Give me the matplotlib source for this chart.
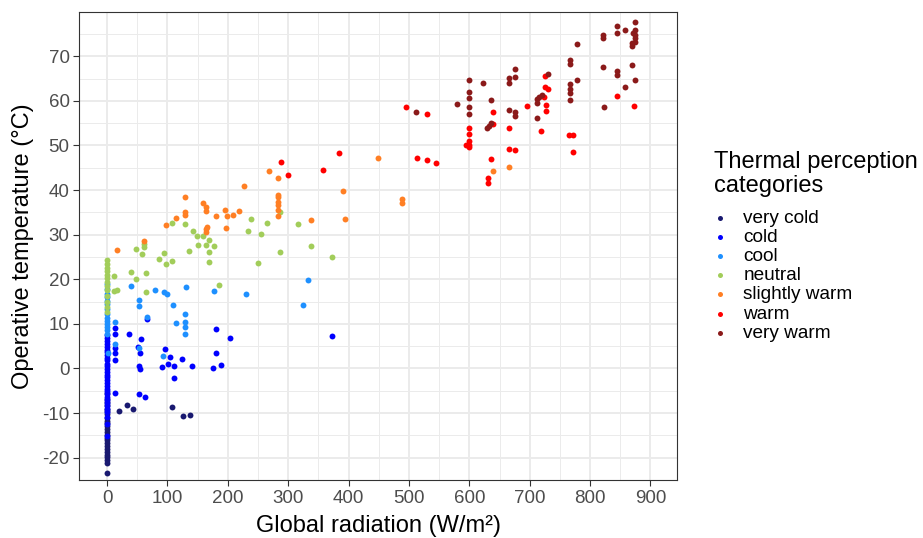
import numpy as np
import matplotlib
matplotlib.use("Agg")
from matplotlib import pyplot as plt

plt.rcParams["font.family"] = ["Liberation Sans", "DejaVu Sans"]
plt.rcParams["axes.unicode_minus"] = False

categories = ["very cold", "cold", "cool", "neutral", "slightly warm", "warm", "very warm"]
colors = ["#191970", "#0000FF", "#1E90FF", "#A2CD5A", "#FF7F24", "#FF0000", "#8B1A1A"]

x_ticks = [0, 100, 200, 300, 400, 500, 600, 700, 800, 900]
x_minor = [50, 150, 250, 350, 450, 550, 650, 750, 850]
y_ticks = [-20, -10, 0, 10, 20, 30, 40, 50, 60, 70]
y_minor = [-15, -5, 5, 15, 25, 35, 45, 55, 65, 75]

# points, one x list and one y list per category
very_cold_x = [0] * 25 + [19.4, 33.6, 43.6, 107.7, 125.4, 138.0]
very_cold_y = [-5.5, -6.8, -7.5, -8.2, -9.0, -9.6, -10.3, -11.0, -11.7, -12.3,
               -13.0, -13.6, -14.2, -14.9, -15.5, -16.1, -16.8, -17.4, -18.0,
               -18.7, -19.3, -19.9, -20.5, -21.1, -23.5,
               -9.6, -8.1, -9.0, -8.7, -10.6, -10.5]

cold_x = [0] * 31 + [13.3, 13.3, 13.3, 13.3, 13.3, 35.9, 56.8, 50.9, 54.2, 96.6,
                     104.9, 124.8, 53.5, 54.0, 90.6, 101.5, 110.5, 140.3, 110.5,
                     181.0, 203.7, 181.0, 175.0, 188.8, 12.8, 53.0, 63.4, 66.3, 372.4]
cold_y = [7.4, 6.8, 6.1, 5.5, 4.9, 4.2, 3.6, 3.0, 2.4, 1.8, 1.1, 0.5, -0.1, -0.7,
          -1.4, -2.0, -2.6, -3.2, -3.9, -4.5, -5.1, -5.8, -6.4, -7.1, -7.7, -8.3,
          -9.0, -9.8, -10.8, -12.4, -15.2,
          9.1, 7.7, 4.5, 3.4, 2.0, 7.7, 6.6, 4.9, 3.5, 4.4,
          2.6, 2.2, 0.6, -0.2, 0.4, 1.1, 0.6, 0.6, -2.1,
          8.9, 6.9, 3.5, 0.2, 0.8, -5.4, -5.7, -6.3, 11.2, 7.3]

cool_x = [0] * 14 + [2.2, 39.2, 79.5, 95.0, 100.0, 131.4, 176.7, 229.7, 53.5, 53.0,
                     109.3, 66.3, 129.2, 129.2, 129.2, 129.2, 113.8, 12.8, 13.3,
                     53.5, 93.3, 332.4, 324.6]
cool_y = [19.0, 17.9, 16.8, 16.0, 15.2, 14.4, 13.3, 12.2, 11.4, 10.7, 10.0, 9.3,
          8.6, 7.8,
          3.5, 18.5, 17.6, 17.1, 16.7, 18.3, 17.3, 16.6, 15.3, 13.9,
          14.3, 11.6, 12.2, 10.5, 9.2, 7.8, 10.2, 10.4, 5.5,
          4.6, 2.8, 19.8, 14.3]

neutral_x = [0] * 13 + [11.6, 11.1, 16.0, 39.2, 48.5, 65.1, 65.1, 48.5, 57.5, 60.8,
                        60.8, 95.0, 86.1, 97.2, 107.7, 107.7, 129.2, 135.8, 143.0,
                        149.6, 158.5, 150.7, 164.0, 177.2, 169.0, 169.0, 169.0,
                        185.5, 239.0, 264.5, 234.0, 255.0, 286.6, 286.6, 250.0,
                        317.0, 337.4, 373.2]
neutral_y = [24.4, 23.5, 22.6, 21.8, 21.0, 20.2, 19.4, 18.6, 17.7, 16.3, 15.0,
             13.8, 12.6,
             20.7, 17.4, 17.6, 21.7, 20.0, 21.5, 17.2, 26.8, 25.6, 27.9,
             27.2, 25.8, 24.6, 23.4, 24.2, 32.7, 32.3, 26.3, 30.9,
             29.8, 29.8, 27.6, 27.6, 27.4, 28.8, 26.1, 23.9,
             18.7, 33.6, 32.6, 30.9, 30.2, 26.2, 35.0, 23.7,
             32.3, 27.4, 25.0]

slightly_warm_x = [16.0, 61.0, 98.2, 114.3, 128.6, 129.2, 129.2, 159.0, 164.0, 164.0,
                   166.2, 164.0, 164.0, 180.0, 195.0, 197.6, 199.3, 208.2, 218.0,
                   227.0, 268.3, 283.8, 283.0, 283.0, 283.0, 283.0, 283.0, 283.0,
                   337.4, 391.0, 394.2, 449.5, 488.7, 488.7, 638.9, 666.0]
slightly_warm_y = [26.6, 28.6, 32.1, 33.7, 38.5, 35.0, 34.5, 37.2, 36.1, 35.2,
                   31.8, 31.3, 30.7, 34.2, 35.6, 31.6, 34.2, 34.5, 35.2,
                   41.0, 44.3, 42.8, 39.0, 38.4, 37.4, 36.7, 35.6, 34.3,
                   33.4, 39.7, 33.6, 47.1, 37.9, 37.1, 44.3, 45.2]

warm_x = [287.7, 300.3, 358.3, 384.8, 495.8, 529.5, 513.0, 529.5, 544.5, 594.6,
          600.2, 600.2, 600.2, 600.2, 600.2, 638.9, 638.9, 636.6, 630.6, 630.6,
          666.0, 666.0, 675.8, 695.5, 725.5, 726.0, 730.0, 724.4, 727.0, 727.0,
          718.9, 764.8, 772.4, 772.4, 845.0, 873.0]
warm_y = [46.4, 43.3, 44.6, 48.4, 58.6, 57.0, 47.2, 46.8, 46.1, 50.2,
          54.0, 52.5, 51.1, 50.1, 49.6, 57.4, 54.9, 47.0, 42.8, 41.7,
          54.0, 49.3, 49.0, 58.9, 65.6, 63.1, 62.7, 60.9, 59.0, 57.8,
          53.2, 52.4, 52.4, 48.6, 61.1, 58.9]

very_warm_x = [512.4, 579.3, 600.2, 600.2, 600.2, 600.2, 600.2, 622.8, 636.6, 636.6,
               630.0, 633.0, 666.0, 666.0, 675.8, 675.8, 666.0, 675.8, 675.8, 712.3,
               712.3, 716.0, 720.5, 730.0, 712.3, 767.0, 767.0, 778.5, 778.5, 767.0,
               767.0, 767.0, 767.0, 822.0, 821.0, 821.0, 823.5, 845.0, 845.0, 845.0,
               845.0, 857.6, 857.6, 869.6, 875.0, 875.0, 871.0, 875.0, 875.0, 875.0,
               870.0, 870.0, 875.0]
very_warm_y = [57.5, 59.2, 64.7, 61.9, 60.6, 58.7, 57.0, 64.1, 60.3, 55.1,
               53.9, 54.3, 65.2, 64.1, 67.2, 65.3, 57.9, 57.6, 56.7, 60.4,
               59.6, 60.9, 61.4, 66.1, 56.1, 69.2, 68.2, 72.8, 64.7, 63.7,
               62.7, 61.7, 60.1, 74.7, 74.1, 67.7, 58.7, 76.9, 75.3, 66.6,
               65.7, 76.0, 63.0, 68.0, 77.7, 75.9, 75.3, 74.8, 74.1, 73.3,
               72.9, 72.2, 64.6]

series = [
    (very_cold_x, very_cold_y),
    (cold_x, cold_y),
    (cool_x, cool_y),
    (neutral_x, neutral_y),
    (slightly_warm_x, slightly_warm_y),
    (warm_x, warm_y),
    (very_warm_x, very_warm_y),
]

fig = plt.figure(figsize=(9.23, 5.38), dpi=100)
ax = fig.add_axes([0.0859, 0.1078, 0.6476, 0.8705])

for (xs, ys), name, col in zip(series, categories, colors):
    ax.scatter(xs, ys, s=18, color=col, label=name, linewidths=0, zorder=3)

ax.set_xlim(-46, 944)
ax.set_ylim(-25, 80)
ax.set_xticks(x_ticks)
ax.set_xticks(x_minor, minor=True)
ax.set_yticks(y_ticks)
ax.set_yticks(y_minor, minor=True)
ax.grid(which="major", color="#EBEBEB", linewidth=1.4, zorder=0)
ax.grid(which="minor", color="#EBEBEB", linewidth=0.7, zorder=0)
ax.set_axisbelow(True)
for sp in ax.spines.values():
    sp.set_color("#333333")
    sp.set_linewidth(0.8)
ax.tick_params(which="major", length=4, width=0.8, color="#333333",
               labelsize=13.5, labelcolor="#4D4D4D", pad=3)
ax.tick_params(which="minor", length=0)

ax.set_xlabel("Global radiation (W/m²)", fontsize=17, labelpad=6)
ax.set_ylabel("Operative temperature (°C)", fontsize=17, labelpad=6)

leg = ax.legend(title="Thermal perception\ncategories", loc="upper left",
                bbox_to_anchor=(714 / 923, 1 - 151 / 538), bbox_transform=fig.transFigure,
                frameon=False, fontsize=13.7, title_fontsize=17, alignment="left",
                handlelength=0.6, handletextpad=0.95, labelspacing=0.1,
                borderpad=0, borderaxespad=0, markerscale=0.85)
leg.get_title().set_linespacing(1.1)
leg._legend_box.sep = 9

fig.savefig("out.png", dpi=100)
